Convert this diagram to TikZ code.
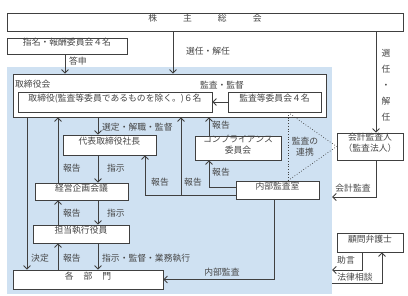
\documentclass[tikz,border=0pt]{standalone}
\usepackage{fontspec}
\setmainfont{Noto Sans CJK JP}
\usetikzlibrary{arrows.meta,fit,calc}
\definecolor{bgblue}{RGB}{207,225,242}
\definecolor{ln}{RGB}{64,64,64}
\definecolor{tx}{RGB}{70,70,70}
\tikzset{
  box/.style={draw=ln, fill=white, line width=0.8bp, inner sep=0pt, text=tx, align=center},
  arr/.style={draw=ln, line width=0.8bp, -{Straight Barb[length=3.5bp,width=7bp]}},
  conn/.style={draw=ln, line width=0.8bp},
  dots/.style={draw=ln, line width=0.7bp, dotted},
  lbl/.style={text=tx, inner sep=1bp},
}
\begin{document}
\begin{tikzpicture}[x=1bp,y=-1bp,font=\fontsize{8.8bp}{11bp}\selectfont]
\useasboundingbox (0,0) rectangle (408,296);
\fill[white] (0,0) rectangle (408,296);
\node[fit={(7,67) (332,294)}, inner sep=0pt, fill=bgblue] (bg) {};
% boxes
\node[box, fit={(7,13) (403,31)}] (sh) {株\hspace{26bp}主\hspace{26bp}総\hspace{26bp}会};
\node[box, fit={(7,38) (127,54)}] (nom) {指名・報酬委員会４名};
\node[box, fit={(13,74) (326,117)}] (bd) {};
\node[lbl, anchor=west] (bdl) at (14,84) {取締役会};
\node[box, fit={(18,92) (212,112)}] (dir) {取締役(監査等委員であるものを除く。)６名};
\node[box, fit={(228,92) (321,112)}] (aud) {監査等委員会４名};
\node[box, fit={(63,135) (156,155)}] (pres) {代表取締役社長};
\node[box, fit={(195,136) (281,160)}] (comp) {コンプライアンス\\委員会};
\node[box, fit={(35,183) (128,200)}] (plan) {経営企画会議};
\node[box, fit={(236,181) (319,199)}] (ia) {内部監査室};
\node[box, fit={(33,225) (129,243)}] (exec) {担当執行役員};
\node[box, fit={(13,270) (163,289)}] (dept) {各\hspace{10bp}部\hspace{10bp}門};
\node[box, fit={(337,133) (403,160)}] (ca) {会計監査人\\（監査法人）};
\node[box, fit={(337,233) (403,252)}] (law) {顧問弁護士};
% connectors
\draw[arr] (65,0 |- nom.south) -- (65,0 |- bd.north);
\draw[arr] (173,0 |- sh.south) -- (173,0 |- bd.north);
\draw[arr] (376,0 |- sh.south) -- (376,0 |- ca.north);
\draw[arr] (aud.west) -- (dir.east);
\draw[arr] (27,0 |- bd.south) -- (27,0 |- dept.north);
\draw[arr] (98,0 |- bd.south) -- (98,0 |- pres.north);
\draw[arr] (98,0 |- pres.south) -- (98,0 |- plan.north);
\draw[arr] (58,0 |- plan.north) -- (58,0 |- bd.south);
\draw[arr] (98,0 |- plan.south) -- (98,0 |- exec.north);
\draw[arr] (58,0 |- exec.north) -- (58,0 |- plan.south);
\draw[arr] (98,0 |- exec.south) -- (98,0 |- dept.north);
\draw[arr] (58,0 |- dept.north) -- (58,0 |- exec.south);
\coordinate (j1) at (181,195);
\draw[arr] (ia.west |- 0,195) -- (145,195) -- (145,0 |- pres.south);
\draw[arr] (j1) -- (181,0 |- bd.south);
\draw[arr] (ia.west |- 0,187) -- (209,187) -- (209,0 |- comp.south);
\draw[arr] (209,0 |- comp.north) -- (209,0 |- bd.south);
\draw[arr] (274,0 |- ia.south) -- (274,0 |- dept.east) -- (dept.east);
\draw[dots] (288,0 |- aud.south) -- (288,0 |- ia.north);
\draw[dots] (288,0 |- aud.south) -- (ca.west);
\draw[dots] (288,0 |- ia.north) -- (ca.west);
\draw[arr] (376,0 |- ca.south) -- (376,197) -- (bg.east |- 0,197);
\draw[arr] (362,0 |- law.south) -- (362,270) -- (bg.east |- 0,270);
\draw[arr] (bg.east |- 0,283) -- (382,283) -- (382,0 |- law.south);
% labels
\node[lbl] at (78,61) {答申};
\node[lbl] at (208,51) {選任・解任};
\node[lbl, align=center, font=\fontsize{8.8bp}{16bp}\selectfont] at (386,85) {選\\任\\・\\解\\任};
\node[lbl] at (222,85) {監査・監督};
\node[lbl] at (40,258) {決定};
\node[lbl, anchor=west] at (101,127) {選定・解職・監督};
\node[lbl] at (72,168) {報告};
\node[lbl] at (116,168) {指示};
\node[lbl] at (72,213) {報告};
\node[lbl] at (116,213) {指示};
\node[lbl] at (72,258) {報告};
\node[lbl, anchor=west] at (101,258) {指示・監督・業務執行};
\node[lbl] at (160,182) {報告};
\node[lbl] at (193,182) {報告};
\node[lbl] at (221,125) {報告};
\node[lbl] at (221,172) {報告};
\node[lbl, align=center] at (305,147) {監査の\\連携};
\node[lbl] at (222,272) {内部監査};
\node[lbl] at (353,188) {会計監査};
\node[lbl] at (346,260) {助言};
\node[lbl] at (355,277) {法律相談};
\end{tikzpicture}
\end{document}
